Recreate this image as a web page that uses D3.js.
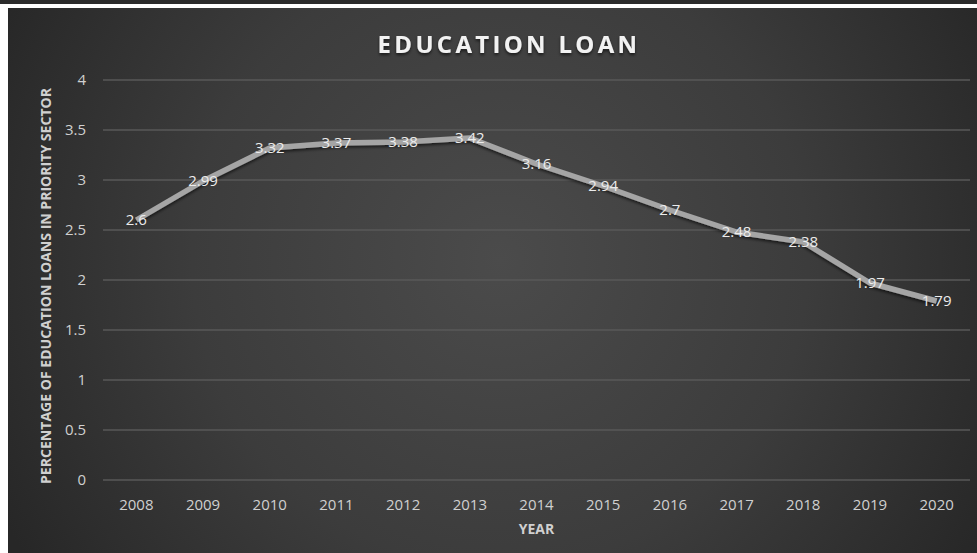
<!DOCTYPE html>
<meta charset="utf-8">
<style>
  body { margin: 0; background: #fff; }
  svg { display: block; }
</style>
<svg width="977" height="553"></svg>
<script src="https://cdn.jsdelivr.net/npm/d3@7"></script>
<script>

var years = ["2008", "2009", "2010", "2011", "2012", "2013", "2014", "2015", "2016", "2017", "2018", "2019", "2020"],
    loanShare = [2.6, 2.99, 3.32, 3.37, 3.38, 3.42, 3.16, 2.94, 2.7, 2.48, 2.38, 1.97, 1.79],
    yTicks = [0, 0.5, 1, 1.5, 2, 2.5, 3, 3.5, 4];

var svg = d3.select("svg"),
    width = +svg.attr("width"),
    height = +svg.attr("height"),
    font = "'Open Sans', sans-serif";

var defs = svg.append("defs");

var grad = defs.append("radialGradient")
    .attr("id", "bg")
    .attr("gradientUnits", "userSpaceOnUse")
    .attr("cx", 500).attr("cy", 260).attr("r", 560);
grad.append("stop").attr("offset", "0%").attr("stop-color", "#4b4b4b");
grad.append("stop").attr("offset", "55%").attr("stop-color", "#3c3c3c");
grad.append("stop").attr("offset", "100%").attr("stop-color", "#272727");

var shadow = defs.append("filter").attr("id", "shadow")
    .attr("x", "-10%").attr("y", "-10%").attr("width", "120%").attr("height", "140%");
shadow.append("feDropShadow")
    .attr("dx", 0).attr("dy", 2).attr("stdDeviation", 1.5)
    .attr("flood-color", "#000").attr("flood-opacity", 0.6);

// strip above the chart frame
svg.append("rect").attr("x", 0).attr("y", 0).attr("width", width).attr("height", 4).attr("fill", "#2b2b2b");

// chart area
svg.append("rect")
    .attr("x", 8).attr("y", 8)
    .attr("width", width - 8).attr("height", height - 8)
    .attr("fill", "url(#bg)");

var x = d3.scaleBand().domain(years).range([103, 970]),
    y = d3.scaleLinear().domain([0, 4]).range([480, 80]);

// gridlines
svg.append("g")
  .selectAll("line")
  .data(yTicks)
  .join("line")
    .attr("x1", x.range()[0]).attr("x2", x.range()[1])
    .attr("y1", function(d) { return y(d); })
    .attr("y2", function(d) { return y(d); })
    .attr("stroke", "#585858")
    .attr("stroke-width", 1.5);

// y axis
var yAxis = svg.append("g")
    .attr("transform", "translate(" + (x.range()[0] - 17) + ",0)")
    .call(d3.axisLeft(y).tickValues(yTicks).tickSize(0).tickPadding(0).tickFormat(d3.format("")));
yAxis.select(".domain").remove();
yAxis.selectAll("text")
    .attr("fill", "#d0d0d0")
    .attr("font-family", font)
    .attr("font-size", 15);

// x axis
var xAxis = svg.append("g")
    .attr("transform", "translate(0," + (y(0) + 19) + ")")
    .call(d3.axisBottom(x).tickSize(0).tickPadding(0));
xAxis.select(".domain").remove();
xAxis.selectAll("text")
    .attr("fill", "#d0d0d0")
    .attr("font-family", font)
    .attr("font-size", 15);

// line
var line = d3.line()
    .x(function(d, i) { return x(years[i]) + x.bandwidth() / 2; })
    .y(function(d) { return y(d); });

svg.append("path")
    .datum(loanShare)
    .attr("d", line)
    .attr("fill", "none")
    .attr("stroke", "#a5a5a5")
    .attr("stroke-width", 5.5)
    .attr("stroke-linejoin", "round")
    .attr("filter", "url(#shadow)");

// data labels
svg.append("g")
  .selectAll("text")
  .data(loanShare)
  .join("text")
    .attr("x", function(d, i) { return x(years[i]) + x.bandwidth() / 2; })
    .attr("y", function(d) { return y(d); })
    .attr("dy", "0.35em")
    .attr("text-anchor", "middle")
    .attr("fill", "#ececec")
    .attr("font-family", font)
    .attr("font-size", 15)
    .text(function(d) { return d; });

// title
svg.append("text")
    .attr("x", 509).attr("y", 53)
    .attr("text-anchor", "middle")
    .attr("fill", "#f2f2f2")
    .attr("font-family", font)
    .attr("font-weight", "bold")
    .attr("font-size", 24)
    .attr("letter-spacing", 3.3)
    .attr("filter", "url(#shadow)")
    .text("EDUCATION LOAN");

// axis titles
svg.append("text")
    .attr("x", (x.range()[0] + x.range()[1]) / 2).attr("y", 534)
    .attr("text-anchor", "middle")
    .attr("fill", "#d0d0d0")
    .attr("font-family", font)
    .attr("font-weight", "bold")
    .attr("font-size", 14)
    .text("YEAR");

svg.append("text")
    .attr("transform", "translate(51,286) rotate(-90)")
    .attr("text-anchor", "middle")
    .attr("fill", "#d0d0d0")
    .attr("font-family", font)
    .attr("font-weight", "bold")
    .attr("font-size", 14)
    .attr("textLength", 396)
    .attr("lengthAdjust", "spacingAndGlyphs")
    .text("PERCENTAGE OF EDUCATION LOANS IN PRIORITY SECTOR");

</script>
